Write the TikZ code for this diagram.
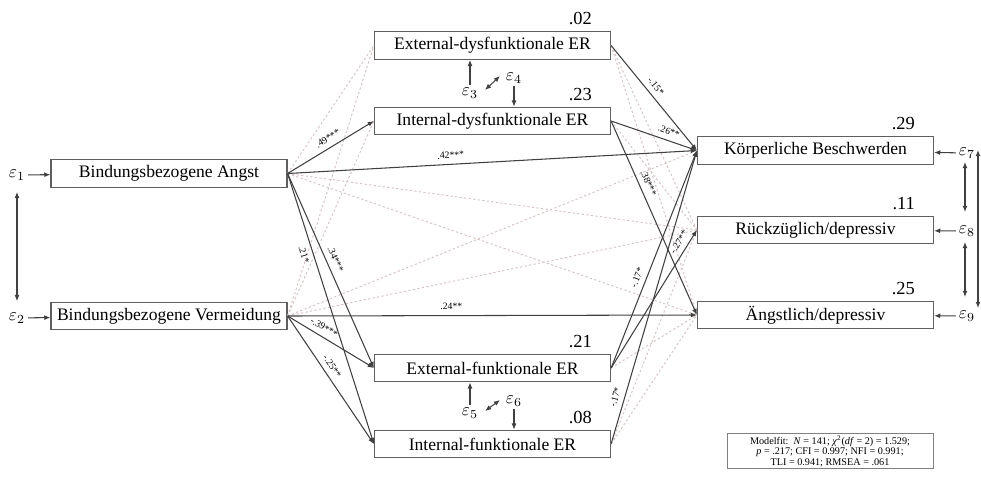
\documentclass[tikz,border=0pt]{standalone}
\usepackage{fontspec}
\setmainfont{Liberation Serif}
\usetikzlibrary{arrows.meta}
\definecolor{nsline}{RGB}{214,196,196}
\definecolor{boxline}{RGB}{95,95,95}

\begin{document}
\begin{tikzpicture}[x=0.02cm, y=-0.02cm,
  varbox/.style={draw=boxline, line width=0.7pt, minimum width=4.72cm, minimum height=0.55cm, inner sep=0pt, font=\fontsize{10}{12}\selectfont},
  sigpath/.style={draw=black!75, line width=0.6pt, -{Latex[length=3.5pt,width=2.8pt]}},
  nspath/.style={draw=nsline, line width=0.55pt, dash pattern=on 1.3pt off 1.3pt},
  covar/.style={draw=black!75, line width=0.6pt, {Latex[length=3.5pt,width=2.8pt]}-{Latex[length=3.5pt,width=2.8pt]}},
  coef/.style={font=\fontsize{5.5}{6}\selectfont, sloped, inner sep=3pt},
  rsq/.style={font=\fontsize{10.5}{12}\selectfont, anchor=south east},
  errvar/.style={font=\fontsize{10}{12}\selectfont, inner sep=1.5pt}]

\useasboundingbox (0,0) rectangle (981,481);

% Predictors
\node[varbox] (angst) at (169,173.5) {Bindungsbezogene Angst};
\node[varbox] (verm) at (169,316) {Bindungsbezogene Vermeidung};

% Mediators
\node[varbox] (edys) at (492.5,45.5) {External-dysfunktionale ER};
\node[varbox] (idys) at (492.5,121) {Internal-dysfunktionale ER};
\node[varbox] (efun) at (492.5,368) {External-funktionale ER};
\node[varbox] (ifun) at (492.5,444) {Internal-funktionale ER};

% Outcomes
\node[varbox] (kb) at (815.5,150.5) {Körperliche Beschwerden};
\node[varbox] (rd) at (815.5,230) {Rückzüglich/depressiv};
\node[varbox] (ad) at (815.5,315) {Ängstlich/depressiv};

% Explained variance
\node[rsq] at ([xshift=-0.26cm]edys.north east) {.02};
\node[rsq] at ([xshift=-0.26cm]idys.north east) {.23};
\node[rsq] at ([xshift=-0.26cm]efun.north east) {.21};
\node[rsq] at ([xshift=-0.26cm]ifun.north east) {.08};
\node[rsq] at ([xshift=-0.26cm]kb.north east) {.29};
\node[rsq] at ([xshift=-0.26cm]rd.north east) {.11};
\node[rsq] at ([xshift=-0.26cm]ad.north east) {.25};

% Non-significant paths
\draw[nspath] (angst.east) -- (edys.west);
\draw[nspath] (angst.east) -- (rd.west);
\draw[nspath] (angst.east) -- (ad.west);
\draw[nspath] (verm.east) -- (edys.west);
\draw[nspath] (verm.east) -- (idys.west);
\draw[nspath] (verm.east) -- (kb.west);
\draw[nspath] (verm.east) -- (rd.west);
\draw[nspath] (edys.east) -- (rd.west);
\draw[nspath] (edys.east) -- (ad.west);
\draw[nspath] (idys.east) -- (rd.west);
\draw[nspath] (efun.east) -- (ad.west);
\draw[nspath] (ifun.east) -- (rd.west);
\draw[nspath] (ifun.east) -- (ad.west);

% Significant paths
\draw[sigpath] (angst.east) -- node[coef, pos=0.52, above] {.49***} (idys.west);
\draw[sigpath] (angst.east) -- node[coef, pos=0.4, above] {.42***} (kb.west);
\draw[sigpath] (angst.east) -- node[coef, pos=0.46, above] {.34***} (efun.west);
\draw[sigpath] (angst.east) -- node[coef, pos=0.29, below] {.21*} (ifun.west);
\draw[sigpath] (verm.east) -- node[coef, pos=0.4, above] {.24**} (ad.west);
\draw[sigpath] (verm.east) -- node[coef, pos=0.37, above] {-.39***} (efun.west);
\draw[sigpath] (verm.east) -- node[coef, pos=0.43, above] {-.25**} (ifun.west);
\draw[sigpath] (edys.east) -- node[coef, pos=0.44, above] {-.15*} (kb.west);
\draw[sigpath] (idys.east) -- node[coef, pos=0.64, above] {.26**} (kb.west);
\draw[sigpath] (idys.east) -- node[coef, pos=0.34, above] {.38***} (ad.west);
\draw[sigpath] (efun.east) -- node[coef, pos=0.4, above] {-.17*} (kb.west);
\draw[sigpath] (efun.east) -- node[coef, pos=0.88, above] {-.27**} (rd.west);
\draw[sigpath] (ifun.east) -- node[coef, pos=0.15, above] {-.17*} (kb.west);

% Residuals of predictors
\node[errvar] (e1) at (17,175) {$\varepsilon_1$};
\node[errvar] (e2) at (17,318) {$\varepsilon_2$};
\draw[sigpath] (e1) -- (angst);
\draw[sigpath] (e2) -- (verm);
\draw[covar, shorten <=5pt, shorten >=5pt] (e1) -- (e2);

% Residuals of mediators
\node[errvar] (e3) at (470,93) {$\varepsilon_3$};
\node[errvar] (e4) at (514,78) {$\varepsilon_4$};
\draw[sigpath] (e3) -- (e3 |- edys.south);
\draw[sigpath] (e4) -- (e4 |- idys.north);
\draw[covar] ([shift={(15,-3)}]e3.center) -- ([shift={(-14,-2)}]e4.center);

\node[errvar] (e5) at (470,413) {$\varepsilon_5$};
\node[errvar] (e6) at (514,401) {$\varepsilon_6$};
\draw[sigpath] (e5) -- (e5 |- efun.south);
\draw[sigpath] (e6) -- (e6 |- ifun.north);
\draw[covar] ([shift={(15,-2)}]e5.center) -- ([shift={(-14,-1)}]e6.center);

% Residuals of outcomes
\node[errvar] (e7) at (967,153) {$\varepsilon_7$};
\node[errvar] (e8) at (967,231) {$\varepsilon_8$};
\node[errvar] (e9) at (967,316) {$\varepsilon_9$};
\draw[sigpath] (e7) -- (kb);
\draw[sigpath] (e8) -- (rd);
\draw[sigpath] (e9) -- (ad);
\draw[covar] ([shift={(-2,9)}]e7.center) -- ([shift={(-2,-19)}]e8.center);
\draw[covar] ([shift={(-2,11)}]e8.center) -- ([shift={(-2,-19)}]e9.center);
\draw[covar] ([shift={(11,-3)}]e7.center) -- ([shift={(11,-8)}]e9.center);

% Model fit
\node[draw=black!50, line width=0.5pt, align=center, inner sep=1.2pt, minimum width=4.12cm,
  font=\fontsize{5.8}{5.9}\selectfont] (fit) at (830,451)
  {Modelfit:\enspace\textit{N} = 141; \textit{χ}\textsuperscript{2}(\textit{df} = 2) = 1.529;\\
   \textit{p} = .217; CFI = 0.997; NFI = 0.991;\\
   TLI = 0.941; RMSEA = .061};

\end{tikzpicture}
\end{document}
